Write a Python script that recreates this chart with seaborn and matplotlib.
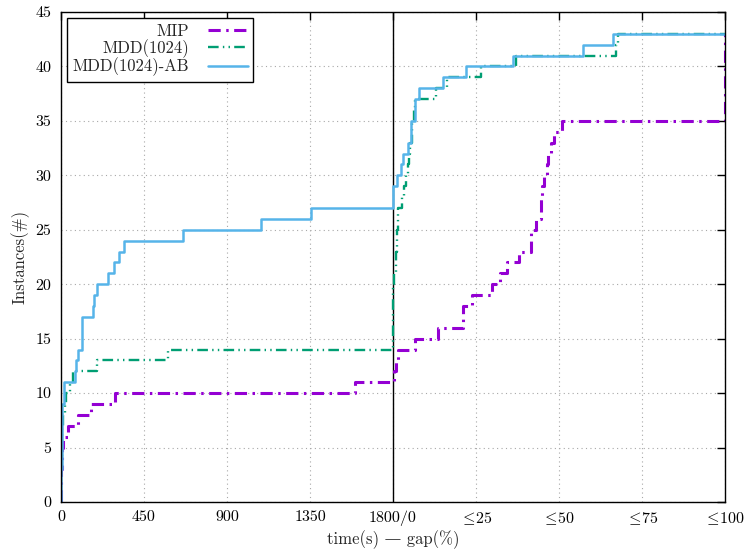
import numpy as np
import pandas as pd
import matplotlib
matplotlib.use("Agg")
import matplotlib.pyplot as plt
import seaborn as sns

# time part (seconds, 0..1800) and gap part (%, 0..100) of each curve
mip_time = [0, 2, 8, 12, 36, 90, 163, 293, 1592]
mip_time_n = [0, 3, 5, 6, 7, 8, 9, 10, 11]
mip_gap = [0, 0.3, 0.8, 1.4, 6.6, 13.5, 21.0, 23.9, 29.7, 32.2, 34.2, 38.0, 41.7,
           43.0, 44.5, 45.0, 45.5, 46.3, 46.8, 47.6, 48.4, 50.8, 100]
mip_gap_n = [11, 12, 13, 14, 15, 16, 18, 19, 20, 21, 22, 23, 25,
             26, 28, 29, 30, 31, 32, 33, 34, 35, 43]

mdd_time = [0, 2, 6, 12, 22, 27, 49, 67, 197, 582]
mdd_time_n = [0, 4, 7, 8, 9, 10, 11, 12, 13, 14]
mdd_gap = [0, 0.4, 0.8, 1.2, 1.6, 2.6, 3.4, 4.0, 4.4, 4.8, 5.2, 5.8, 6.4, 6.6,
           12.9, 16.3, 26.4, 37.0, 67.2, 67.9, 100]
mdd_gap_n = [20, 21, 23, 25, 27, 28, 29, 30, 31, 32, 33, 35, 36, 37,
             38, 39, 40, 41, 42, 43, 43]

ab_time = [0, 1, 3, 5, 18, 74, 80, 90, 115, 175, 180, 195, 253, 289, 314, 342, 663, 1083, 1357]
ab_time_n = [0, 3, 6, 9, 11, 12, 13, 14, 17, 18, 19, 20, 21, 22, 23, 24, 25, 26, 27]
ab_gap = [0, 1.1, 2.3, 3.0, 4.6, 5.4, 6.7, 7.7, 15.1, 22.1, 36.2, 57.3, 66.2, 100]
ab_gap_n = [29, 30, 31, 32, 33, 35, 37, 38, 39, 40, 41, 42, 43, 43]

x_ticks = [0, 450, 900, 1350, 1800, 2250, 2700, 3150, 3600]
x_tick_labels = ["0", "450", "900", "1350", "1800/0",
                 r"$\leq\!$25", r"$\leq\!$50", r"$\leq\!$75", r"$\leq\!$100"]
T_MAX = 1800


def curve(t, tn, g, gn):
    # gap axis is glued after the time limit: 0..100 % -> 1800..3600
    x = list(t) + [T_MAX + v * T_MAX / 100 for v in g]
    return pd.DataFrame({"x": x, "n": list(tn) + list(gn)})


sns.set_theme(style="white")
plt.rcParams["font.family"] = ["cmr10", "DejaVu Serif"]
plt.rcParams["mathtext.fontset"] = "cm"
plt.rcParams["axes.unicode_minus"] = False

fig = plt.figure(figsize=(7.45, 5.53), dpi=100)
ax = fig.add_axes([61 / 745, 51 / 553, 664 / 745, 490 / 553])

series = [
    ("MIP", curve(mip_time, mip_time_n, mip_gap, mip_gap_n), "#9400D3", 2.2, (0, (4, 1.8, 0.8, 1.8))),
    ("MDD(1024)", curve(mdd_time, mdd_time_n, mdd_gap, mdd_gap_n), "#009E73", 1.7, (0, (4.5, 1.8, 0.6, 1.8, 0.6, 1.8))),
    ("MDD(1024)-AB", curve(ab_time, ab_time_n, ab_gap, ab_gap_n), "#56B4E9", 1.8, "-"),
]
for name, df, col, lw, ls in series:
    sns.lineplot(data=df, x="x", y="n", ax=ax, color=col, lw=lw, linestyle=ls,
                 drawstyle="steps-post", estimator=None, sort=False, label=name)

ax.axvline(T_MAX, color="black", lw=1.0, zorder=1)

ax.set_xlim(0, 3600)
ax.set_ylim(0, 45)
ax.set_xticks(x_ticks)
ax.set_xticklabels(x_tick_labels)
ax.set_yticks(range(0, 46, 5))
ax.tick_params(direction="in", top=True, right=True, length=6, width=1,
               labelsize=11.5, colors="black")
ax.tick_params(axis="x", pad=6)
ax.tick_params(axis="y", pad=7)
ax.grid(True, color="#a8a8a8", lw=0.8, linestyle=(0, (1, 3)))
ax.set_axisbelow(True)
for s in ax.spines.values():
    s.set_color("black")
    s.set_linewidth(1.0)

ax.set_xlabel("time(s) — gap(%)", fontsize=12, labelpad=2)
ax.set_ylabel("Instances(#)", fontsize=12, labelpad=4)

leg = ax.legend(loc="upper left", markerfirst=False, fontsize=12, frameon=True,
                fancybox=False, framealpha=1, edgecolor="black", handlelength=2.4,
                labelspacing=0.0, borderpad=0.35, borderaxespad=0.35, handletextpad=1.1)
leg.get_frame().set_linewidth(1.0)

fig.savefig("out.png", dpi=100)
